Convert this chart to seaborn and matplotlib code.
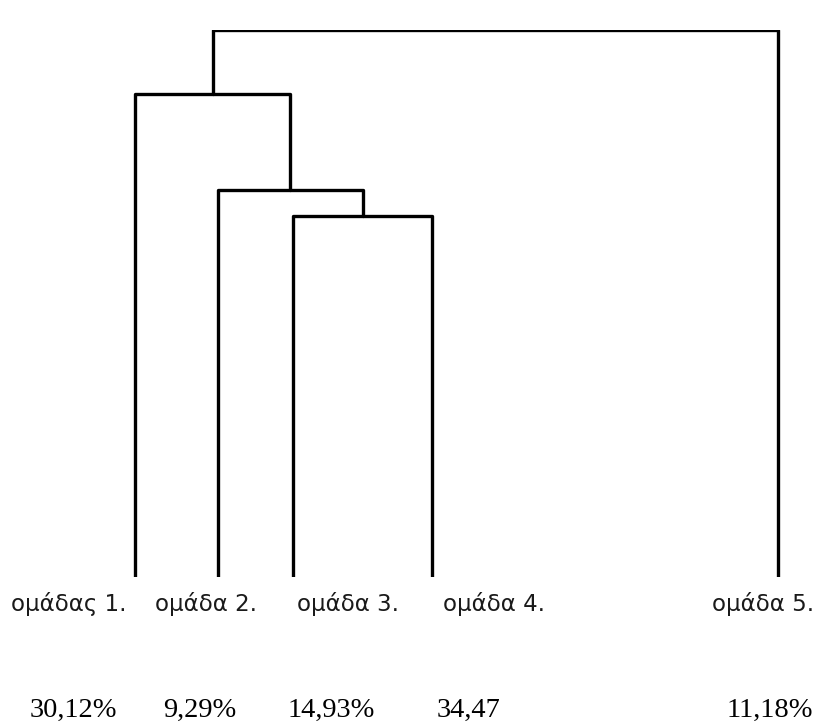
import numpy as np
import pandas as pd
import matplotlib
matplotlib.use("Agg")
import matplotlib.pyplot as plt
import seaborn as sns

# leaf names and the share of each group (text under the leaves)
groups = ["ομάδας 1.", "ομάδα 2.", "ομάδα 3.", "ομάδα 4.", "ομάδα 5."]
shares = ["30,12%", "9,29%", "14,93%", "34,47", "11,18%"]

# merges: (left member, right member, height); members are leaf index or "c<k>" for k-th merge
merges = [
    (2, 3, 6.60),
    (1, "c0", 7.07),
    (0, "c1", 8.83),
    ("c2", 4, 10.0),
]

# layout (pixels of the 827x722 canvas)
W, H = 827, 722
leaf_x = [135, 218, 293, 432, 778]
label_x = [11, 155, 297, 443, 712]
share_x = [30, 163, 288, 437, 727]
leaf_base_px = 577
top_px = 30

sns.set_theme(style="white")
fig = plt.figure(figsize=(W / 100, H / 100), dpi=100)
ax = fig.add_axes([0, (H - leaf_base_px) / H, 1, (leaf_base_px - top_px) / H])

# build the U-shaped segments of the dendrogram
pos = {}
hgt = {}
for i, x in enumerate(leaf_x):
    pos[i] = x
    hgt[i] = 0.0
rows = []
for k, (a, b, h) in enumerate(merges):
    xa, xb = pos[a], pos[b]
    for j, (xx, yy) in enumerate([(xa, hgt[a]), (xa, h), (xb, h), (xb, hgt[b])]):
        rows.append({"link": k, "order": j, "x": xx, "h": yy})
    pos["c%d" % k] = (xa + xb) / 2
    hgt["c%d" % k] = h
seg = pd.DataFrame(rows)

sns.lineplot(data=seg, x="x", y="h", units="link", estimator=None, sort=False,
             color="black", linewidth=2.4, ax=ax)
ax.set_xlim(0, W)
ax.set_ylim(0, max(m[2] for m in merges))
ax.axis("off")

for name, lx in zip(groups, label_x):
    fig.text(lx / W, 1 - 611 / H, name, fontsize=16.5, family="DejaVu Sans",
             color="#1a1a1a", ha="left", va="baseline")
for s, sx in zip(shares, share_x):
    fig.text(sx / W, 1 - 717 / H, s, fontsize=20.5, family="Liberation Serif",
             color="black", ha="left", va="baseline")

fig.savefig("out.png", dpi=100)
